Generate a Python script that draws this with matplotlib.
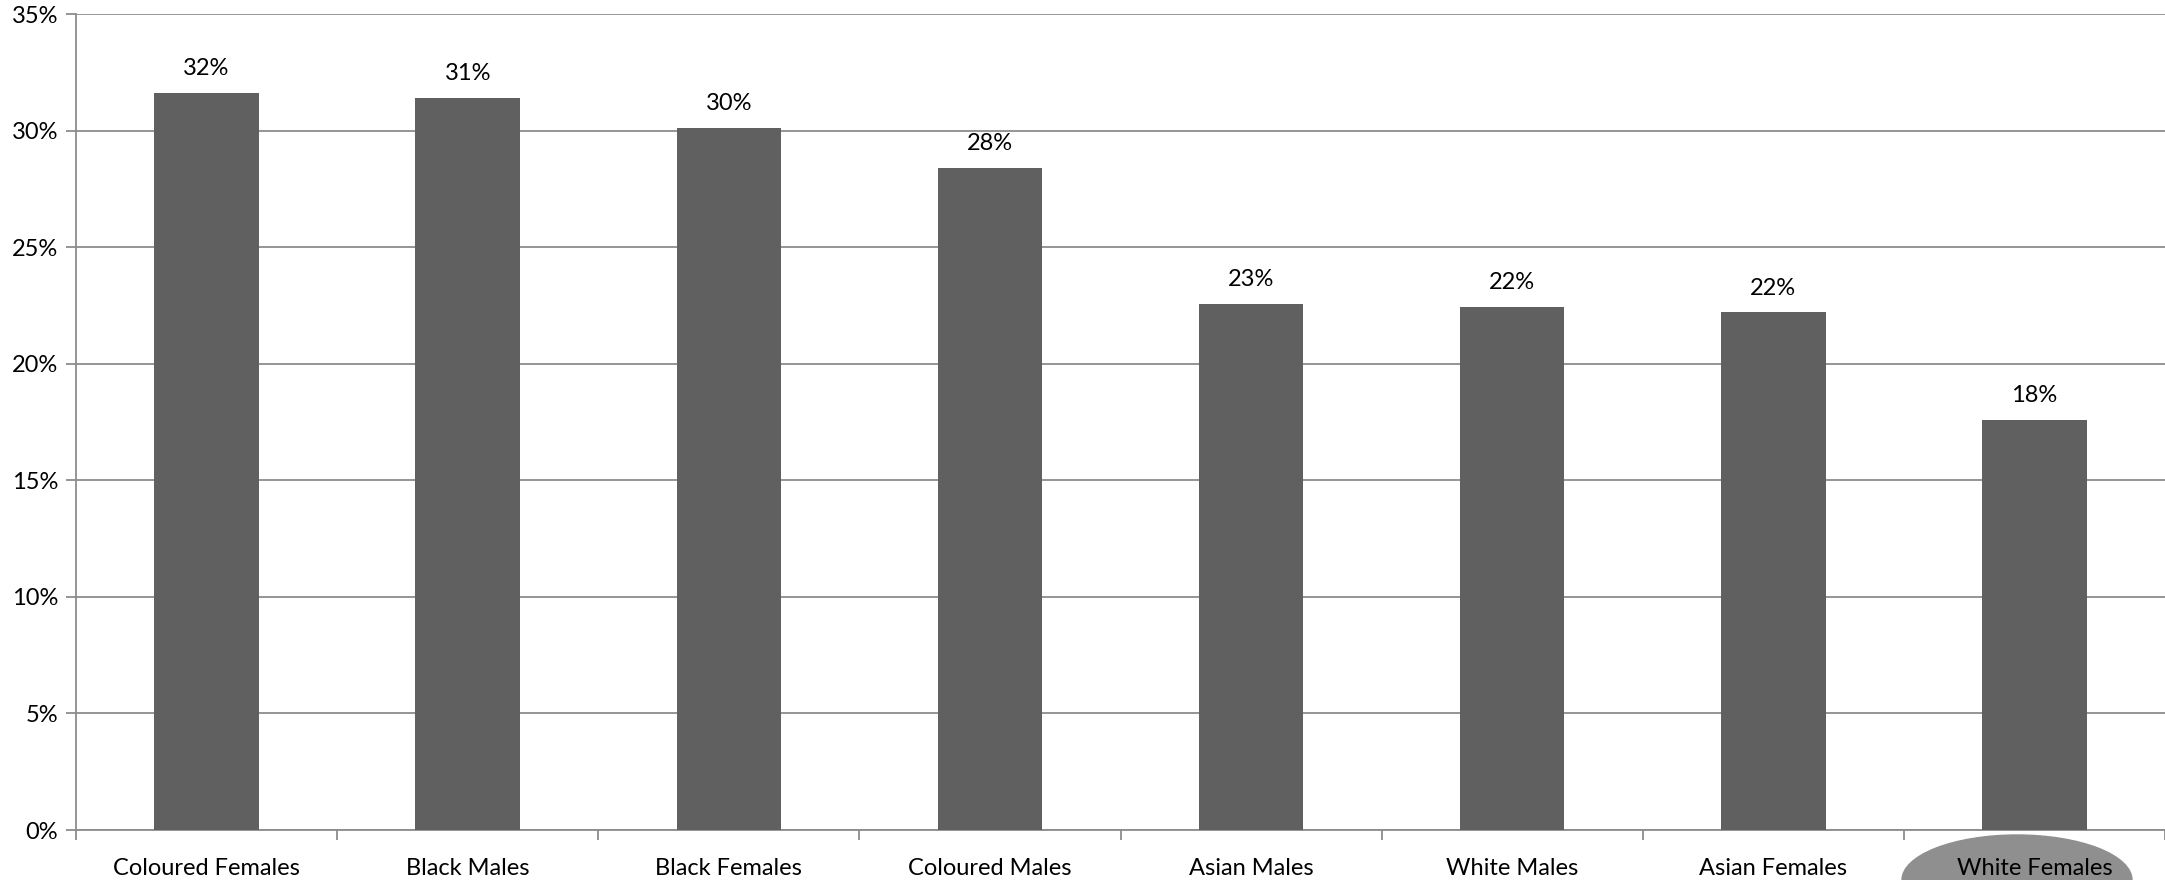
import numpy as np
import matplotlib.pyplot as plt
from matplotlib.patches import Ellipse

plt.rc('font', family=['Lato', 'DejaVu Sans'], size=17)

categories = ['Coloured Females', 'Black Males', 'Black Females', 'Coloured Males',
              'Asian Males', 'White Males', 'Asian Females', 'White Females']
values = [31.6, 31.4, 30.1, 28.4, 22.55, 22.45, 22.2, 17.6]
labels = ['32%', '31%', '30%', '28%', '23%', '22%', '22%', '18%']

fig = plt.figure(figsize=(21.65, 8.8), dpi=100)
ax = fig.add_axes([76 / 2165, 50 / 880, 2089 / 2165, 816 / 880])

x = np.arange(len(categories))
ax.bar(x, values, width=0.4, color='#606060', zorder=3)
for xi, v, lab in zip(x, values, labels):
    ax.annotate(lab, (xi, v), xytext=(0, 10), textcoords='offset points',
                ha='center', va='bottom', fontsize=17, color='#000000')

ax.set_xlim(-0.5, len(categories) - 0.5)
ax.set_ylim(0, 35)
ax.set_yticks(np.arange(0, 36, 5))
ax.set_yticklabels([f'{t}%' for t in range(0, 36, 5)])
ax.yaxis.grid(True, color='#8c8c8c', linewidth=1.3, zorder=0)

# category labels centred, separator ticks between categories
ax.set_xticks(x)
ax.set_xticklabels(categories)
ax.tick_params(axis='x', length=0, pad=20, labelsize=17)
ax.set_xticks(np.arange(-0.5, len(categories), 1), minor=True)
ax.tick_params(axis='x', which='minor', length=7, color='#8c8c8c', width=1.3)
ax.tick_params(axis='y', length=7, color='#8c8c8c', width=1.3, pad=6, labelsize=17)

for s in ['top', 'right']:
    ax.spines[s].set_visible(False)
for s in ['left', 'bottom']:
    ax.spines[s].set_color('#8c8c8c')
    ax.spines[s].set_linewidth(1.3)

# grey blob behind the last label
blob = Ellipse((2017 / 2165, 1 - 880 / 880), 230 / 2165, 90 / 880,
               transform=fig.transFigure, color='#8f8f8f', zorder=-1)
fig.patches.append(blob)

fig.savefig('out.png', dpi=100)
